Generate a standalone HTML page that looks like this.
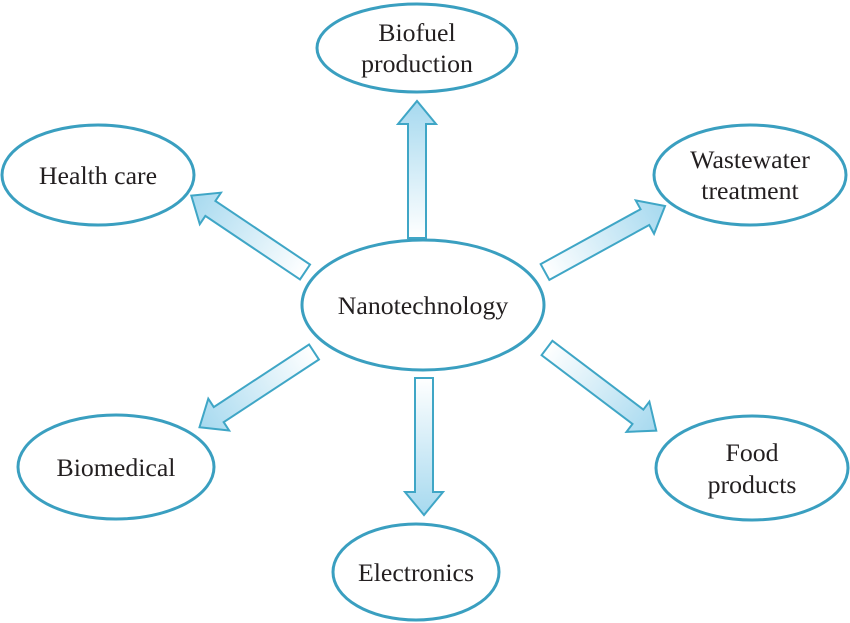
<!DOCTYPE html>
<html><head><meta charset="utf-8"><style>
html,body{margin:0;padding:0;background:#fff;}
svg{display:block;}
text{font-family:"Liberation Serif",serif;font-size:25.8px;fill:#231f20;text-anchor:middle;}
</style></head><body>
<svg width="850" height="623" viewBox="0 0 850 623">
<defs>
<linearGradient id="g" gradientUnits="userSpaceOnUse" x1="0" y1="0" x2="137" y2="0">
<stop offset="0" stop-color="#ffffff"/><stop offset="1" stop-color="#a6d9ef"/>
</linearGradient>
<path id="a" d="M0,-9 L114,-9 L114,-19 L137,0 L114,19 L114,9 L0,9 Z" fill="url(#g)" stroke="#3fa6c6" stroke-width="2" stroke-linejoin="miter"/>
</defs>
<g fill="none" stroke="#3a9fc0" stroke-width="3">
<ellipse cx="417" cy="48" rx="100" ry="44"/>
<ellipse cx="98" cy="175" rx="96" ry="50"/>
<ellipse cx="750" cy="175" rx="96" ry="50"/>
<ellipse cx="423" cy="305" rx="121" ry="65"/>
<ellipse cx="116" cy="467" rx="98" ry="52"/>
<ellipse cx="752" cy="468" rx="96" ry="52"/>
<ellipse cx="416" cy="572" rx="83" ry="48"/>
</g>
<use href="#a" transform="translate(417,238) rotate(-90)"/>
<use href="#a" transform="translate(305,272) rotate(-146.1)"/>
<use href="#a" transform="translate(545,272) rotate(-28.8)"/>
<use href="#a" transform="translate(314,352) rotate(146.7)"/>
<use href="#a" transform="translate(424,378) rotate(90)"/>
<use href="#a" transform="translate(547,348) rotate(37.1)"/>
<text x="417" y="41">Biofuel</text>
<text x="417" y="72">production</text>
<text x="98" y="184">Health care</text>
<text x="750" y="168">Wastewater</text>
<text x="750" y="199">treatment</text>
<text x="423" y="314">Nanotechnology</text>
<text x="116" y="476">Biomedical</text>
<text x="752" y="461">Food</text>
<text x="752" y="493">products</text>
<text x="416" y="581">Electronics</text>
</svg>
</body></html>
